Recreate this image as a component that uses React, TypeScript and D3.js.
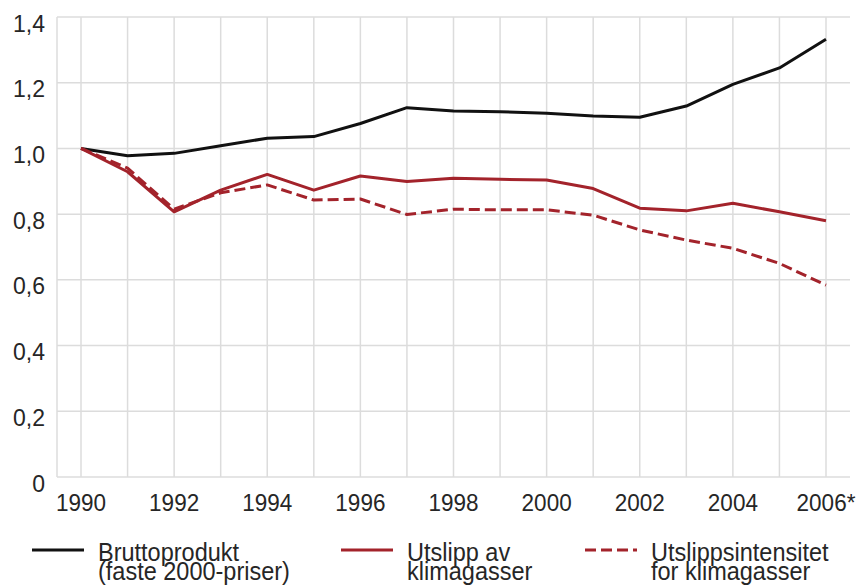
import React, { useEffect, useRef } from 'react';
import * as d3 from 'd3';

// Years and index values (1990 = 1,0)
const years = [1990, 1991, 1992, 1993, 1994, 1995, 1996, 1997, 1998, 1999, 2000, 2001, 2002, 2003, 2004, 2005, 2006];
const bruttoprodukt = [1.0, 0.978, 0.985, 1.008, 1.031, 1.036, 1.076, 1.124, 1.114, 1.112, 1.107, 1.099, 1.095, 1.129, 1.195, 1.245, 1.332];
const utslipp = [1.0, 0.929, 0.807, 0.873, 0.921, 0.873, 0.916, 0.899, 0.909, 0.906, 0.904, 0.878, 0.818, 0.81, 0.833, 0.807, 0.78];
const intensitet = [1.0, 0.94, 0.815, 0.865, 0.889, 0.843, 0.846, 0.799, 0.815, 0.813, 0.813, 0.797, 0.752, 0.721, 0.696, 0.65, 0.584];

const yTicks = [0, 0.2, 0.4, 0.6, 0.8, 1.0, 1.2, 1.4];
const xLabelYears = [1990, 1992, 1994, 1996, 1998, 2000, 2002, 2004, 2006];
const xLabel = (y: number) => (y === 2006 ? '2006*' : String(y));

const series = [
  { name: ['Bruttoprodukt', '(faste 2000-priser)'], values: bruttoprodukt, color: '#111111', dash: null, lx: 32 },
  { name: ['Utslipp av', 'klimagasser'], values: utslipp, color: '#a3232b', dash: null, lx: 341 },
  { name: ['Utslippsintensitet', 'for klimagasser'], values: intensitet, color: '#a3232b', dash: '11,5', lx: 585 },
];

const width = 857;
const height = 588;

export default function App() {
  const ref = useRef<SVGSVGElement>(null);

  useEffect(() => {
    const svg = d3.select(ref.current);
    svg.selectAll('*').remove();

    const x = d3.scaleLinear().domain([1990, 2006]).range([81, 826]);
    const y = d3.scaleLinear().domain([0, 1.4]).range([477, 17]);
    const pad = 24;
    const left = x(1990) - pad;
    const right = x(2006) + pad;

    const font = 'Liberation Sans, Arial, sans-serif';
    const textColor = '#262626';
    const stretch = 'scale(1,1.07)'; // glyphs in the original are a bit taller than wide
    const grid = svg.append('g');

    // horizontal grid
    grid.selectAll('.hgrid')
      .data(yTicks)
      .join('line')
      .attr('x1', left)
      .attr('x2', right)
      .attr('y1', d => y(d))
      .attr('y2', d => y(d))
      .attr('stroke', '#dcdcdc')
      .attr('stroke-width', 1.5);

    // vertical grid (one per year) + left border
    grid.selectAll('.vgrid')
      .data(years)
      .join('line')
      .attr('x1', d => x(d))
      .attr('x2', d => x(d))
      .attr('y1', y(1.4))
      .attr('y2', y(0))
      .attr('stroke', '#dcdcdc')
      .attr('stroke-width', 1.5);

    grid.append('line')
      .attr('x1', left).attr('x2', left)
      .attr('y1', y(1.4)).attr('y2', y(0))
      .attr('stroke', '#dcdcdc')
      .attr('stroke-width', 1.5);

    // y labels
    svg.append('g').selectAll('text')
      .data(yTicks)
      .join('text')
      .attr('transform', d => `translate(45,${y(d) + 14.5}) ${stretch}`)
      .attr('text-anchor', 'end')
      .attr('font-family', font)
      .attr('font-size', 23)
      .attr('fill', textColor)
      .text(d => (d === 0 ? '0' : d3.format('.1f')(d).replace('.', ',')));

    // x labels
    svg.append('g').selectAll('text')
      .data(xLabelYears)
      .join('text')
      .attr('transform', d => `translate(${x(d)},510.5) ${stretch}`)
      .attr('text-anchor', 'middle')
      .attr('font-family', font)
      .attr('font-size', 22.5)
      .attr('fill', textColor)
      .text(d => xLabel(d));

    // lines
    const lineGen = d3.line<number>()
      .x((d, i) => x(years[i]))
      .y(d => y(d));

    svg.append('g').selectAll('path')
      .data(series)
      .join('path')
      .attr('d', d => lineGen(d.values))
      .attr('fill', 'none')
      .attr('stroke', d => d.color)
      .attr('stroke-width', 3)
      .attr('stroke-linejoin', 'round')
      .attr('stroke-dasharray', d => d.dash);

    // legend
    const legend = svg.append('g').selectAll('g')
      .data(series)
      .join('g');

    legend.append('line')
      .attr('x1', d => d.lx)
      .attr('x2', d => d.lx + 52)
      .attr('y1', 550)
      .attr('y2', 550)
      .attr('stroke', d => d.color)
      .attr('stroke-width', 3)
      .attr('stroke-dasharray', d => d.dash);

    legend.append('text')
      .attr('transform', d => `translate(${d.lx + 66},561) ${stretch}`)
      .attr('font-family', font)
      .attr('font-size', 23.5)
      .attr('fill', textColor)
      .selectAll('tspan')
      .data(d => d.name.map((n, i) => ({ n, i })))
      .join('tspan')
      .attr('x', 0)
      .attr('y', d => d.i * 17.5)
      .text(d => d.n);
  }, []);

  return (
    <svg
      ref={ref}
      width={width}
      height={height}
      style={{ position: 'absolute', left: 0, top: 0, background: '#fff' }}
    />
  );
}
